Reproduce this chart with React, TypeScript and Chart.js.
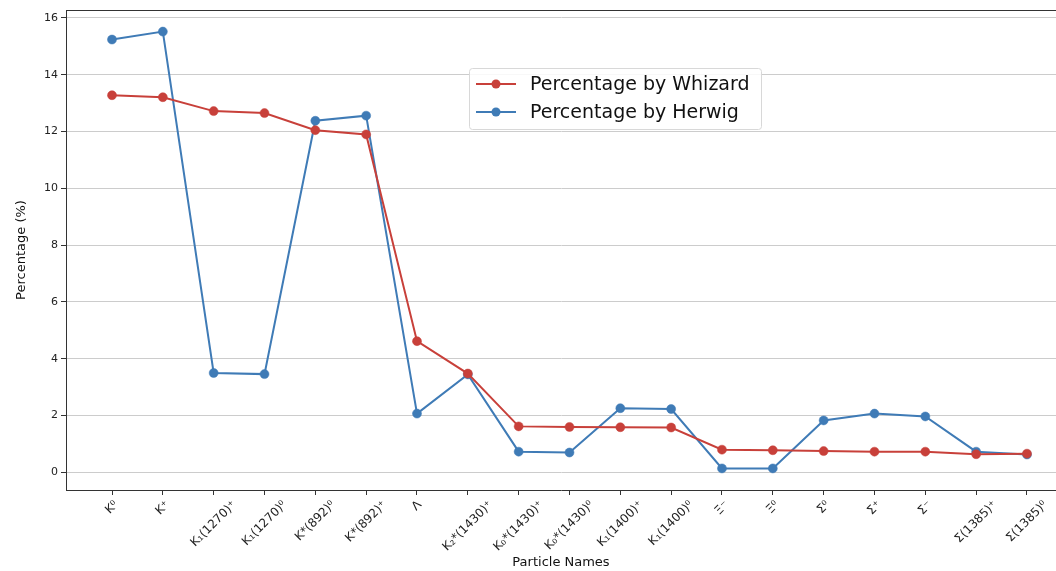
import React, { useEffect, useRef } from "react";
import { Chart, registerables } from "chart.js";

Chart.register(...registerables);

const particleNames: string[] = [
  "K⁰", "K⁺", "K₁(1270)⁺", "K₁(1270)⁰", "K*(892)⁰", "K*(892)⁺", "Λ",
  "K₂*(1430)⁺", "K₀*(1430)⁺", "K₀*(1430)⁰", "K₁(1400)⁺", "K₁(1400)⁰",
  "Ξ⁻", "Ξ⁰", "Σ⁰", "Σ⁺", "Σ⁻", "Σ(1385)⁺", "Σ(1385)⁰",
];

const whizardPct: number[] = [
  13.28, 13.21, 12.72, 12.65, 12.05, 11.9, 4.62, 3.48, 1.62, 1.6, 1.59, 1.58,
  0.8, 0.78, 0.75, 0.73, 0.73, 0.64, 0.66,
];

const herwigPct: number[] = [
  15.24, 15.52, 3.5, 3.46, 12.38, 12.56, 2.07, 3.45, 0.73, 0.7, 2.26, 2.23,
  0.14, 0.14, 1.83, 2.07, 1.97, 0.73, 0.63,
];

const yTicks: number[] = [0, 2, 4, 6, 8, 10, 12, 14, 16];

const RED = "#c8403a";
const BLUE = "#3f7bb6";
const FONT = "'DejaVu Sans', sans-serif";

const topSpine = {
  id: "topSpine",
  afterDraw(chart: any) {
    const { ctx, chartArea } = chart;
    ctx.save();
    ctx.strokeStyle = "#333";
    ctx.lineWidth = 1;
    ctx.beginPath();
    ctx.moveTo(chartArea.left, chartArea.top + 0.5);
    ctx.lineTo(chartArea.right, chartArea.top + 0.5);
    ctx.stroke();
    ctx.restore();
  },
};

// center rotated x labels under their ticks (matplotlib ha='center' look)
const centerRotatedLabels = {
  id: "centerRotatedLabels",
  beforeDraw(chart: any) {
    const scale = chart.scales.x;
    if (!scale || scale._centeredDone) return;
    const items = scale.getLabelItems(chart.chartArea);
    const ctx = chart.ctx;
    ctx.save();
    items.forEach((it: any) => {
      ctx.font = it.font.string;
      const w = ctx.measureText(String(it.label)).width;
      const rot = Math.abs(it.options.rotation || 0);
      it.options.translation[0] += (w * Math.cos(rot)) / 2;
    });
    ctx.restore();
    scale._centeredDone = true;
  },
};

const customLegend = {
  id: "customLegend",
  afterDraw(chart: any) {
    const { ctx } = chart;
    const x = 469.5, y = 68.5, w = 292, h = 61;
    ctx.save();
    ctx.fillStyle = "rgba(255,255,255,0.85)";
    ctx.strokeStyle = "#d8d8d8";
    ctx.lineWidth = 1;
    ctx.beginPath();
    ctx.roundRect(x, y, w, h, 3);
    ctx.fill();
    ctx.stroke();
    const items = [
      { label: "Percentage by Whizard", color: RED, cy: 84 },
      { label: "Percentage by Herwig", color: BLUE, cy: 112 },
    ];
    items.forEach((it) => {
      ctx.strokeStyle = it.color;
      ctx.lineWidth = 2;
      ctx.beginPath();
      ctx.moveTo(476, it.cy);
      ctx.lineTo(516, it.cy);
      ctx.stroke();
      ctx.fillStyle = it.color;
      ctx.beginPath();
      ctx.arc(496, it.cy, 4.5, 0, Math.PI * 2);
      ctx.fill();
      ctx.fillStyle = "#111";
      ctx.font = `19px ${FONT}`;
      ctx.textBaseline = "middle";
      ctx.textAlign = "left";
      ctx.fillText(it.label, 530, it.cy + 1);
    });
    ctx.restore();
  },
};

export default function App() {
  const ref = useRef<HTMLCanvasElement | null>(null);

  useEffect(() => {
    if (!ref.current) return;
    const chart = new Chart(ref.current, {
      type: "line",
      data: {
        datasets: [
          {
            label: "Percentage by Whizard",
            data: whizardPct.map((v, i) => ({ x: i, y: v })),
            borderColor: RED,
            backgroundColor: RED,
            pointBackgroundColor: RED,
            pointBorderColor: RED,
            pointRadius: 4.5,
            pointBorderWidth: 0.5,
            borderWidth: 2,
            tension: 0,
          },
          {
            label: "Percentage by Herwig",
            data: herwigPct.map((v, i) => ({ x: i, y: v })),
            borderColor: BLUE,
            backgroundColor: BLUE,
            pointBackgroundColor: BLUE,
            pointBorderColor: BLUE,
            pointRadius: 4.5,
            pointBorderWidth: 0.5,
            borderWidth: 2,
            tension: 0,
          },
        ],
      },
      options: {
        animation: false,
        responsive: false,
        maintainAspectRatio: false,
        layout: { autoPadding: false, padding: { left: 0, right: 0, top: 10, bottom: 0 } },
        plugins: {
          legend: { display: false },
          tooltip: { enabled: false },
        },
        scales: {
          x: {
            type: "linear",
            min: -0.905,
            max: 18.571,
            afterBuildTicks: (axis: any) => {
              axis.ticks = particleNames.map((_, i) => ({ value: i }));
            },
            afterFit: (axis: any) => {
              axis.height = 81;
              axis.paddingLeft = 0;
              axis.paddingRight = 0;
            },
            grid: {
              drawOnChartArea: false,
              drawTicks: true,
              tickLength: 5,
              tickColor: "#333",
            },
            border: { display: true, color: "#333", width: 1 },
            ticks: {
              autoSkip: false,
              maxRotation: 45,
              minRotation: 45,
              padding: 3,
              color: "#222",
              font: { family: FONT, size: 12 },
              callback: (v: any) => particleNames[Math.round(Number(v))] ?? "",
            },
            title: {
              display: true,
              text: "Particle Names",
              color: "#111",
              font: { family: FONT, size: 13 },
              padding: { top: 4, bottom: 1 },
            },
          },
          y: {
            type: "linear",
            min: -0.62,
            max: 16.28,
            afterBuildTicks: (axis: any) => {
              axis.ticks = yTicks.map((v) => ({ value: v }));
            },
            afterFit: (axis: any) => {
              axis.width = 66;
            },
            grid: {
              color: "#cccccc",
              lineWidth: 1,
              drawTicks: true,
              tickLength: 5,
              tickColor: "#333",
            },
            border: { display: true, color: "#333", width: 1 },
            ticks: {
              padding: 3,
              color: "#222",
              font: { family: FONT, size: 11 },
              callback: (v: any) => String(v),
            },
            title: {
              display: true,
              text: "Percentage (%)",
              color: "#111",
              font: { family: FONT, size: 13 },
              padding: { top: 14, bottom: 0 },
            },
          },
        },
      },
      plugins: [topSpine, centerRotatedLabels, customLegend],
    } as any);
    return () => chart.destroy();
  }, []);

  return (
    <div style={{ position: "fixed", left: 0, top: 0, width: 1056, height: 571, background: "#fff" }}>
      <canvas ref={ref} width={1056} height={571} style={{ display: "block" }} />
    </div>
  );
}
